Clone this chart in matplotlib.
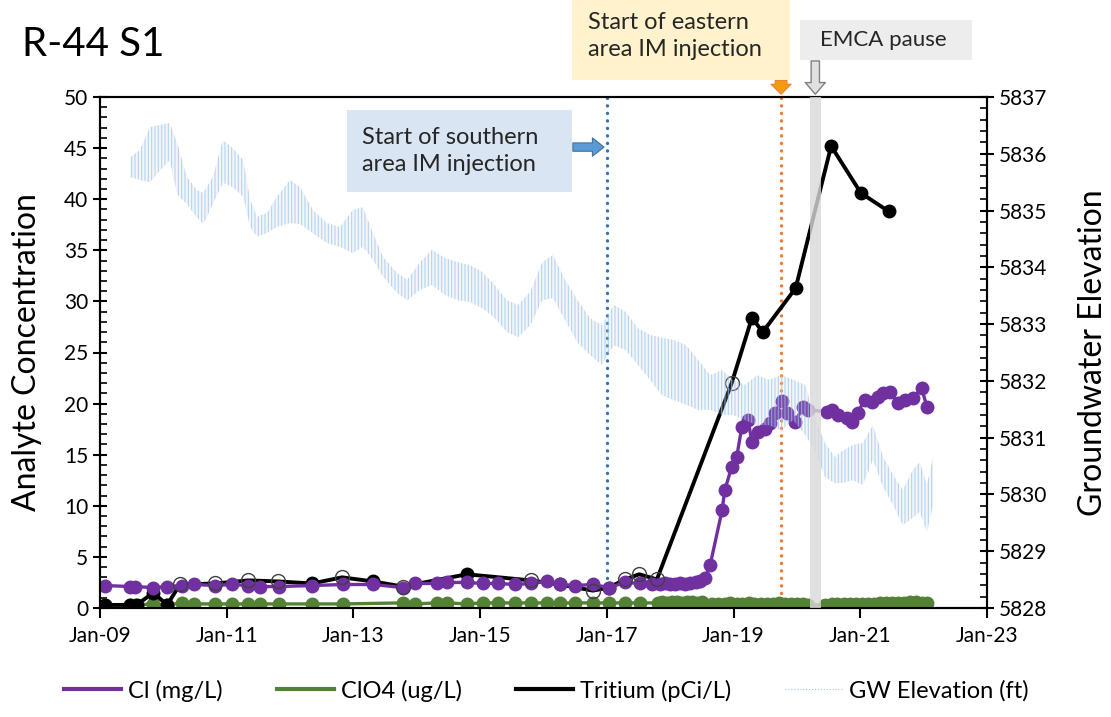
import matplotlib
matplotlib.use('Agg')
import matplotlib.pyplot as plt
from matplotlib.patches import Rectangle
from matplotlib.lines import Line2D
from matplotlib.ticker import MultipleLocator

plt.rcParams['font.family'] = ['Lato', 'DejaVu Sans']
plt.rcParams['hatch.linewidth'] = 0.8

# --- data (decimal years) ---
cl_year = [2009.08, 2009.47, 2009.55, 2009.84, 2010.06, 2010.29, 2010.48, 2010.82, 2011.08, 2011.34,
           2011.53, 2011.83, 2012.35, 2012.84, 2013.31, 2013.78, 2013.97, 2014.32, 2014.48, 2014.79,
           2015.04, 2015.28, 2015.55, 2015.80, 2016.05, 2016.26, 2016.50, 2016.78, 2017.03, 2017.29,
           2017.52, 2017.71, 2017.84, 2017.92, 2018.00, 2018.08, 2018.16, 2018.24, 2018.32, 2018.40,
           2018.47, 2018.55, 2018.63, 2018.82, 2018.86, 2018.97, 2019.05, 2019.13, 2019.23, 2019.29,
           2019.39, 2019.50, 2019.57, 2019.65, 2019.76, 2019.84, 2019.97, 2020.10, 2020.17, 2020.47,
           2020.55, 2020.65, 2020.79, 2020.87, 2020.96, 2021.07, 2021.18, 2021.28, 2021.36, 2021.47,
           2021.59, 2021.71, 2021.83, 2021.97, 2022.05]
cl_val = [2.2, 2.1, 2.1, 2.0, 2.1, 2.2, 2.3, 2.2, 2.3, 2.2,
          2.1, 2.1, 2.2, 2.3, 2.3, 2.0, 2.4, 2.4, 2.5, 2.5,
          2.4, 2.4, 2.3, 2.4, 2.6, 2.3, 2.2, 2.3, 2.0, 2.5,
          2.4, 2.3, 2.3, 2.4, 2.3, 2.3, 2.4, 2.3, 2.4, 2.5,
          2.6, 2.9, 4.2, 9.6, 11.5, 13.8, 14.8, 17.7, 18.4, 16.2,
          17.2, 17.5, 18.1, 19.1, 20.3, 19.1, 18.2, 19.7, 19.4, 19.2,
          19.4, 18.9, 18.6, 18.2, 19.1, 20.4, 20.2, 20.6, 21.0, 21.1,
          20.1, 20.4, 20.5, 21.5, 19.7]

clo4_year = [2009.08, 2009.47, 2009.55, 2009.84, 2010.06, 2010.29, 2010.48, 2010.82, 2011.08, 2011.34,
             2011.53, 2011.83, 2012.35, 2012.84, 2013.78, 2013.97, 2014.32, 2014.48, 2014.79, 2015.04,
             2015.28, 2015.55, 2015.80, 2016.05, 2016.26, 2016.50, 2016.78, 2017.03, 2017.29, 2017.52,
             2017.80, 2017.87, 2017.95, 2018.03, 2018.10, 2018.18, 2018.26, 2018.34, 2018.42, 2018.50,
             2018.66, 2018.76, 2018.86, 2018.95, 2019.05, 2019.14, 2019.24, 2019.33, 2019.43, 2019.52,
             2019.62, 2019.71, 2019.81, 2019.90, 2020.00, 2020.09, 2020.18, 2020.45, 2020.55, 2020.64,
             2020.74, 2020.83, 2020.93, 2021.02, 2021.12, 2021.21, 2021.31, 2021.40, 2021.50, 2021.59,
             2021.69, 2021.78, 2021.88, 2021.97, 2022.05]
clo4_val = [0.3, 0.3, 0.3, 0.4, 0.3, 0.5, 0.4, 0.4, 0.4, 0.4,
            0.4, 0.4, 0.4, 0.4, 0.5, 0.4, 0.5, 0.5, 0.4, 0.5,
            0.5, 0.5, 0.5, 0.5, 0.5, 0.5, 0.5, 0.5, 0.5, 0.5,
            0.5, 0.6, 0.5, 0.6, 0.6, 0.5, 0.6, 0.6, 0.5, 0.6,
            0.4, 0.4, 0.4, 0.5, 0.4, 0.4, 0.5, 0.4, 0.4, 0.4,
            0.4, 0.5, 0.4, 0.4, 0.4, 0.4, 0.3, 0.3, 0.4, 0.4,
            0.4, 0.4, 0.4, 0.4, 0.4, 0.4, 0.5, 0.5, 0.5, 0.5,
            0.5, 0.6, 0.6, 0.5, 0.5]

tri_year = [2009.08, 2009.47, 2009.58, 2009.84, 2010.06, 2010.26, 2010.82, 2011.34, 2011.81, 2012.35,
            2012.82, 2013.31, 2013.78, 2014.79, 2015.80, 2016.26, 2016.78, 2017.03, 2017.29, 2017.51,
            2017.79, 2018.97, 2019.29, 2019.46, 2019.98, 2020.54, 2021.01, 2021.45]
tri_val = [0.3, 0.3, 0.3, 1.5, 0.3, 2.3, 2.4, 2.7, 2.6, 2.4,
           3.0, 2.6, 2.1, 3.3, 2.7, 2.3, 1.7, 2.0, 2.8, 3.3,
           2.8, 22.0, 28.4, 27.0, 31.3, 45.2, 40.6, 38.8]
tri_nd = [0, 0, 0, 0, 0, 1, 1, 1, 1, 0,
          1, 0, 1, 0, 1, 0, 1, 0, 1, 1,
          1, 1, 0, 0, 0, 0, 0, 0]

# groundwater elevation, daily swings read as an upper / lower envelope (ft)
gw_year = [2009.47, 2009.63, 2009.79, 2009.95, 2010.10, 2010.22, 2010.37, 2010.53, 2010.63, 2010.78,
           2010.94, 2011.10, 2011.26, 2011.37, 2011.48, 2011.64, 2011.79, 2012.00, 2012.16, 2012.36,
           2012.58, 2012.79, 2012.99, 2013.15, 2013.31, 2013.47, 2013.69, 2013.85, 2014.05, 2014.24,
           2014.45, 2014.65, 2014.84, 2015.03, 2015.23, 2015.42, 2015.60, 2015.79, 2015.98, 2016.15,
           2016.34, 2016.54, 2016.73, 2016.92, 2017.11, 2017.30, 2017.49, 2017.68, 2017.87, 2018.06,
           2018.25, 2018.44, 2018.63, 2018.82, 2018.99, 2019.18, 2019.37, 2019.56, 2019.75, 2019.94,
           2020.13, 2020.28, 2020.44, 2020.60, 2020.73, 2020.88, 2021.04, 2021.20, 2021.36, 2021.52,
           2021.67, 2021.83, 2021.94, 2022.05, 2022.15]
gw_hi = [5835.93, 5836.07, 5836.47, 5836.51, 5836.54, 5836.19, 5835.59, 5835.36, 5835.31, 5835.59,
         5836.24, 5836.10, 5835.89, 5835.19, 5834.89, 5834.96, 5835.24, 5835.54, 5835.41, 5835.01,
         5834.78, 5834.71, 5835.01, 5835.06, 5834.60, 5834.18, 5833.90, 5833.78, 5834.09, 5834.31,
         5834.16, 5834.09, 5834.04, 5833.92, 5833.69, 5833.42, 5833.34, 5833.57, 5834.09, 5834.22,
         5833.78, 5833.42, 5833.11, 5832.98, 5833.34, 5833.21, 5832.93, 5832.81, 5832.76, 5832.72,
         5832.63, 5832.37, 5832.10, 5832.19, 5832.02, 5831.93, 5832.10, 5832.02, 5832.10, 5832.02,
         5831.93, 5831.36, 5830.91, 5830.66, 5830.78, 5830.87, 5830.91, 5831.22, 5830.66, 5830.34,
         5830.08, 5830.43, 5830.57, 5830.17, 5830.66]
gw_lo = [5835.59, 5835.54, 5835.50, 5835.71, 5835.89, 5835.28, 5835.11, 5834.88, 5834.76, 5835.11,
         5835.49, 5835.41, 5835.24, 5834.71, 5834.54, 5834.61, 5834.71, 5834.78, 5834.76, 5834.60,
         5834.43, 5834.36, 5834.25, 5834.36, 5834.13, 5833.83, 5833.55, 5833.42, 5833.60, 5833.69,
         5833.51, 5833.42, 5833.39, 5833.28, 5833.11, 5832.86, 5832.77, 5832.98, 5833.42, 5833.46,
         5833.07, 5832.67, 5832.46, 5832.28, 5832.63, 5832.54, 5832.28, 5832.02, 5831.75, 5831.66,
         5831.58, 5831.49, 5831.49, 5831.40, 5831.40, 5831.31, 5831.22, 5831.22, 5831.13, 5831.31,
         5831.05, 5830.78, 5830.31, 5830.20, 5830.20, 5830.25, 5830.17, 5830.61, 5830.13, 5829.81,
         5829.46, 5829.59, 5829.69, 5829.34, 5829.81]

xtick_pos = [2009, 2011, 2013, 2015, 2017, 2019, 2021, 2023]
xtick_lab = ['Jan-09', 'Jan-11', 'Jan-13', 'Jan-15', 'Jan-17', 'Jan-19', 'Jan-21', 'Jan-23']

southern_start = 2017.0
eastern_start = 2019.75
emca_pause = (2020.2, 2020.38)

PURPLE = '#7030a0'
GREEN = '#548235'
GW_BLUE = '#9dc3e6'
DOTS = (0, (0.05, 2.2))

fig = plt.figure(figsize=(11.11, 7.17), dpi=100)
ax = fig.add_axes([100 / 1111, 1 - 608 / 717, 887 / 1111, 511 / 717])
ax2 = ax.twinx()

# concentration series
ax.plot(clo4_year, clo4_val, '-o', color=GREEN, lw=2.4, ms=9, zorder=3)
ax.plot(tri_year, tri_val, '-', color='black', lw=2.8, zorder=4)
det_x = [x for x, f in zip(tri_year, tri_nd) if not f]
det_y = [y for y, f in zip(tri_val, tri_nd) if not f]
nd_x = [x for x, f in zip(tri_year, tri_nd) if f]
nd_y = [y for y, f in zip(tri_val, tri_nd) if f]
ax.plot(det_x, det_y, 'o', color='black', ms=9, zorder=4)
ax.plot(nd_x, nd_y, 'o', mfc='none', mec='#404040', mew=1.0, ms=10, zorder=6)
ax.plot(cl_year, cl_val, '-o', color=PURPLE, lw=2.4, ms=9, zorder=5)

ax.axvline(southern_start, color='#2e75b6', lw=2.4, ls=DOTS, dash_capstyle='round', zorder=2)
ax.axvline(eastern_start, color='#ed7d31', lw=2.4, ls=DOTS, dash_capstyle='round', zorder=2)

# groundwater elevation band
ax2.fill_between(gw_year, gw_lo, gw_hi, facecolor=(0.74, 0.84, 0.93, 0.18),
                 edgecolor=(0.62, 0.76, 0.90, 0.7), hatch='|||||', lw=0, zorder=1)
ax2.axvspan(emca_pause[0], emca_pause[1], color='#d9d9d9', alpha=0.8, lw=0, zorder=8)

ax.set_xlim(2009, 2023)
ax.set_ylim(0, 50)
ax2.set_ylim(5828, 5837)
ax.set_xticks(xtick_pos)
ax.set_xticklabels(xtick_lab)
ax.yaxis.set_major_locator(MultipleLocator(5))
ax.yaxis.set_minor_locator(MultipleLocator(1))
ax2.yaxis.set_major_locator(MultipleLocator(1))
ax2.yaxis.set_minor_locator(MultipleLocator(0.2))
ax2.yaxis.set_major_formatter(matplotlib.ticker.FormatStrFormatter('%d'))

for a in (ax, ax2):
    for s in a.spines.values():
        s.set_linewidth(1.5)
ax.tick_params(axis='x', direction='out', length=7, width=1.5, labelsize=15, pad=6)
ax.tick_params(axis='y', which='major', direction='inout', length=10, width=1.5, labelsize=15)
ax.tick_params(axis='y', which='minor', direction='in', length=5, width=1.2)
ax2.tick_params(axis='y', which='major', direction='inout', length=10, width=1.5, labelsize=15)
ax2.tick_params(axis='y', which='minor', direction='in', length=5, width=1.2)

ax.set_ylabel('Analyte Concentration', fontsize=23, labelpad=16)
ax2.set_ylabel('Groundwater Elevation', fontsize=23, labelpad=22)

fig.text(22 / 1111, 1 - 45 / 717, 'R-44 S1', fontsize=29, va='center', ha='left')

# annotation boxes
fig.add_artist(Rectangle((347 / 1111, 1 - 192 / 717), 225 / 1111, 82 / 717,
                         transform=fig.transFigure, facecolor='#dae5f3', edgecolor='none'))
fig.text(362 / 1111, 1 - 151 / 717, 'Start of southern\narea IM injection', fontsize=17,
         va='center', ha='left', color='#262626', linespacing=1.35)
fig.add_artist(Rectangle((572 / 1111, 1 - 80 / 717), 218 / 1111, 80 / 717,
                         transform=fig.transFigure, facecolor='#fff2cc', edgecolor='none'))
fig.text(588 / 1111, 1 - 36 / 717, 'Start of eastern\narea IM injection', fontsize=17,
         va='center', ha='left', color='#262626', linespacing=1.35)
fig.add_artist(Rectangle((800 / 1111, 1 - 60 / 717), 172 / 1111, 40 / 717,
                         transform=fig.transFigure, facecolor='#ededed', edgecolor='none'))
fig.text(820 / 1111, 1 - 40 / 717, 'EMCA pause', fontsize=16, va='center', ha='left', color='#262626')

# arrows
ax.annotate('', xy=(southern_start, 45.1), xytext=(2016.42, 45.1), annotation_clip=False,
            arrowprops=dict(arrowstyle='simple,head_length=0.7,head_width=1.1,tail_width=0.5',
                            fc='#5b9bd5', ec='#41719c', lw=0.8, mutation_scale=12))
ax.annotate('', xy=(eastern_start, 50.0), xytext=(eastern_start, 51.9), annotation_clip=False,
            arrowprops=dict(arrowstyle='simple,head_length=0.6,head_width=1.2,tail_width=0.7',
                            fc='#f39c12', ec='#ed7d31', lw=0.8, mutation_scale=12))
ax.annotate('', xy=(2020.29, 50.0), xytext=(2020.29, 53.8), annotation_clip=False,
            arrowprops=dict(arrowstyle='simple,head_length=0.7,head_width=1.2,tail_width=0.5',
                            fc='#e0e0e0', ec='#808080', lw=1.0, mutation_scale=12))

handles = [Line2D([], [], color=PURPLE, lw=3),
           Line2D([], [], color=GREEN, lw=3),
           Line2D([], [], color='black', lw=3),
           Line2D([], [], color=GW_BLUE, lw=0.8, ls=':')]
labels = ['Cl (mg/L)', 'ClO4 (ug/L)', 'Tritium (pCi/L)', 'GW Elevation (ft)']
fig.legend(handles, labels, loc='center', bbox_to_anchor=(0.492, 0.037), ncol=4, frameon=False,
           fontsize=17, handlelength=2.4, handletextpad=0.3, columnspacing=2.3)

fig.savefig('out.png', dpi=100)
